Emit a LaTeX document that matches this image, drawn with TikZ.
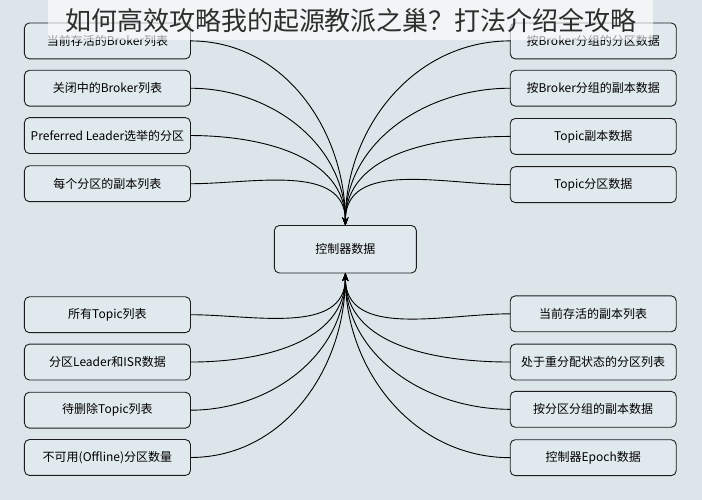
\documentclass[tikz,border=0pt]{standalone}
\usepackage{fontspec}
\setmainfont{Noto Sans CJK SC}
\usepackage{xcolor}
\usetikzlibrary{matrix,arrows.meta}
\definecolor{bgblue}{RGB}{220,230,234}
\definecolor{boxfill}{RGB}{224,233,237}
\definecolor{edgegray}{RGB}{28,28,28}
\definecolor{titlegray}{RGB}{45,45,45}
\tikzset{
    databox/.style={draw=edgegray, fill=boxfill, rounded corners=5pt, line width=0.9pt,
        minimum width=166pt, minimum height=35.9pt, inner sep=2pt,
        font=\fontsize{12}{14}\selectfont},
    link/.style={line width=0.9pt, -{Stealth[length=8pt,width=6pt]}}
}
\begin{document}
\begin{tikzpicture}[x=1pt,y=1pt]
            \fill[bgblue] (0,0) rectangle (702,-500);
            \useasboundingbox (0,0) rectangle (702,-500);
            \matrix(data)[matrix of nodes, inner sep=0pt, outer sep=0pt, anchor=north west,
                row sep=10.5pt, column sep=83pt, nodes={databox}] at (24,-22.5) {
            当前存活的Broker列表 & &[10pt] 按Broker分组的分区数据\\
            关闭中的Broker列表 & & 按Broker分组的副本数据\\
            Preferred Leader选举的分区 & & Topic副本数据\\
            每个分区的副本列表 & & Topic分区数据\\[11.5pt]
            & |[minimum width=142pt, minimum height=47.5pt]| 控制器数据 & \\[11.5pt]
            所有Topic列表 & & 当前存活的副本列表\\
            分区Leader和ISR数据 & & 处于重分配状态的分区列表\\
            待删除Topic列表 & & 按分区分组的副本数据\\
            不可用(Offline)分区数量 & & 控制器Epoch数据\\
            };
            \foreach \r in {1,...,4}{
                \draw[link] (data-\r-1.east) to[out=0,in=90] (data-5-2.north);
                \draw[link] (data-\r-3.west) to[out=180,in=90] (data-5-2.north);
            }
            \foreach \r in {6,...,9}{
                \draw[link] (data-\r-1.east) to[out=0,in=-90] (data-5-2.south);
                \draw[link] (data-\r-3.west) to[out=180,in=-90] (data-5-2.south);
            }
            \fill[white, fill opacity=0.6] (48,0) rectangle (653,-40);
            \node[text=titlegray, font=\fontsize{26}{30}\selectfont, inner sep=0pt] (title) at (351,-21)
                {如何高效攻略我的起源教派之巢？打法介绍全攻略};
        \end{tikzpicture}
\end{document}
